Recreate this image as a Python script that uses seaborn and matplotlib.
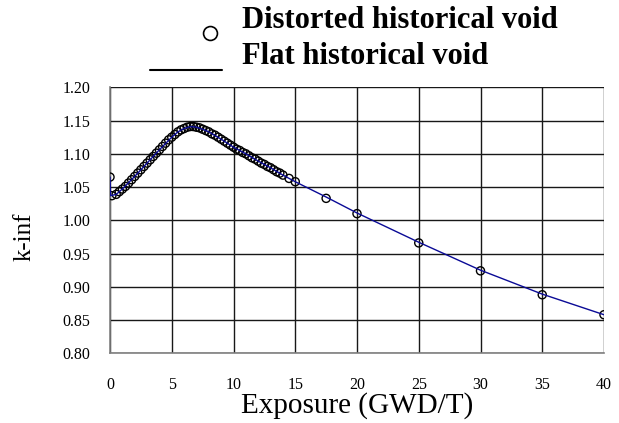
import matplotlib
matplotlib.use("Agg")
import matplotlib.pyplot as plt
from matplotlib.lines import Line2D
import seaborn as sns
import pandas as pd

# ---- data ----
exposure = [0.0, 0.15, 0.5, 0.75, 1.0, 1.25, 1.5, 1.75, 2.0, 2.25, 2.5, 2.75,
            3.0, 3.25, 3.5, 3.75, 4.0, 4.25, 4.5, 4.75, 5.0, 5.25, 5.5, 5.75,
            6.0, 6.25, 6.5, 6.75, 7.0, 7.25, 7.5, 7.75, 8.0, 8.25, 8.5, 8.75,
            9.0, 9.25, 9.5, 9.75, 10.0, 10.25, 10.5, 10.75, 11.0, 11.25, 11.5,
            11.75, 12.0, 12.25, 12.5, 12.75, 13.0, 13.25, 13.5, 13.75, 14.0,
            14.5, 15.0, 17.5, 20.0, 25.0, 30.0, 35.0, 40.0]
kinf_distorted = [1.065, 1.037, 1.039, 1.043, 1.047, 1.051, 1.056, 1.061, 1.066,
                  1.071, 1.076, 1.081, 1.086, 1.091, 1.096, 1.101, 1.106, 1.111,
                  1.116, 1.121, 1.125, 1.129, 1.133, 1.136, 1.138, 1.140, 1.141,
                  1.141, 1.140, 1.139, 1.137, 1.135, 1.133, 1.130, 1.128, 1.125,
                  1.122, 1.119, 1.116, 1.113, 1.110, 1.107, 1.105, 1.102, 1.100,
                  1.097, 1.094, 1.092, 1.089, 1.086, 1.084, 1.081, 1.079, 1.076,
                  1.073, 1.071, 1.068, 1.063, 1.058, 1.033, 1.010, 0.966, 0.924,
                  0.888, 0.858]
exposure_flat = [0.0, 0.05, 0.5, 1.0, 2.0, 3.0, 4.0, 5.0, 5.5, 6.0, 6.5, 7.0,
                 7.5, 8.0, 9.0, 10.0, 11.0, 12.0, 13.0, 14.0, 15.0, 17.5, 20.0,
                 25.0, 30.0, 35.0, 40.0]
kinf_flat = [1.065, 1.037, 1.039, 1.047, 1.066, 1.086, 1.106, 1.125, 1.133,
             1.138, 1.141, 1.140, 1.137, 1.133, 1.122, 1.110, 1.100, 1.089,
             1.079, 1.068, 1.058, 1.035, 1.011, 0.967, 0.925, 0.889, 0.858]

legend_labels = ["Distorted historical void", "Flat historical void"]
xticks = [0, 5, 10, 15, 20, 25, 30, 35, 40]
yticks = [0.80, 0.85, 0.90, 0.95, 1.00, 1.05, 1.10, 1.15, 1.20]

df_pts = pd.DataFrame({"Exposure": exposure, "kinf": kinf_distorted})
df_line = pd.DataFrame({"Exposure": exposure_flat, "kinf": kinf_flat})

sns.set_style("white")
plt.rcParams["font.family"] = ["Liberation Serif", "DejaVu Serif"]
plt.rcParams["text.color"] = "black"
plt.rcParams["axes.labelcolor"] = "black"
plt.rcParams["xtick.color"] = "black"
plt.rcParams["ytick.color"] = "black"

fig = plt.figure(figsize=(6.19, 4.23), dpi=100)
ax = fig.add_axes([110 / 619, 1 - 353.3 / 423, 494 / 619, 266 / 423])

sns.scatterplot(data=df_pts, x="Exposure", y="kinf", ax=ax, marker="o",
                s=34, facecolor="none", edgecolor="black", linewidth=1.0,
                zorder=3, legend=False)
sns.lineplot(data=df_line, x="Exposure", y="kinf", ax=ax, color="#0a0a96",
             linewidth=1.0, zorder=4, legend=False, estimator=None, sort=False)

ax.set_xlim(0, 40)
ax.set_ylim(0.80, 1.20)
ax.set_xticks(xticks)
ax.set_xticklabels([str(t) for t in xticks])
ax.set_yticks(yticks)
ax.set_yticklabels([f"{t:.2f}" for t in yticks])
ax.grid(True, color="#181818", linewidth=1.0)
ax.set_axisbelow(True)
for s in ["top", "right"]:
    ax.spines[s].set_visible(False)
for s in ["left", "bottom"]:
    ax.spines[s].set_color("#808080")
    ax.spines[s].set_linewidth(1.2)
ax.tick_params(axis="x", direction="in", length=3, pad=17, labelsize=11.5,
               color="black", labelcolor="black")
ax.tick_params(axis="y", direction="in", length=3, pad=14, labelsize=11.5,
               color="black", labelcolor="black")
ax.set_xlabel("Exposure (GWD/T)", fontsize=21, va="center", color="black")
ax.xaxis.set_label_coords(0.5, (353.3 - 406) / 266)
ax.set_ylabel("k-inf", fontsize=18, va="center", color="black")
ax.yaxis.set_label_coords((25 - 110) / 494, (353.3 - 237) / 266)

# legend drawn above plot
fig.text(242 / 619, 1 - 20 / 423, legend_labels[0], fontsize=22,
         fontweight="bold", ha="left", va="center", color="black")
fig.text(242 / 619, 1 - 57 / 423, legend_labels[1], fontsize=22,
         fontweight="bold", ha="left", va="center", color="black")
fig.add_artist(Line2D([210 / 619], [1 - 33 / 423], marker="o", markersize=10,
                      markerfacecolor="none", markeredgecolor="black",
                      markeredgewidth=1.2, linestyle="none",
                      transform=fig.transFigure))
fig.add_artist(Line2D([150 / 619, 222 / 619], [1 - 70 / 423, 1 - 70 / 423],
                      color="black", linewidth=1.5,
                      transform=fig.transFigure))

fig.savefig("out.png", dpi=100)
